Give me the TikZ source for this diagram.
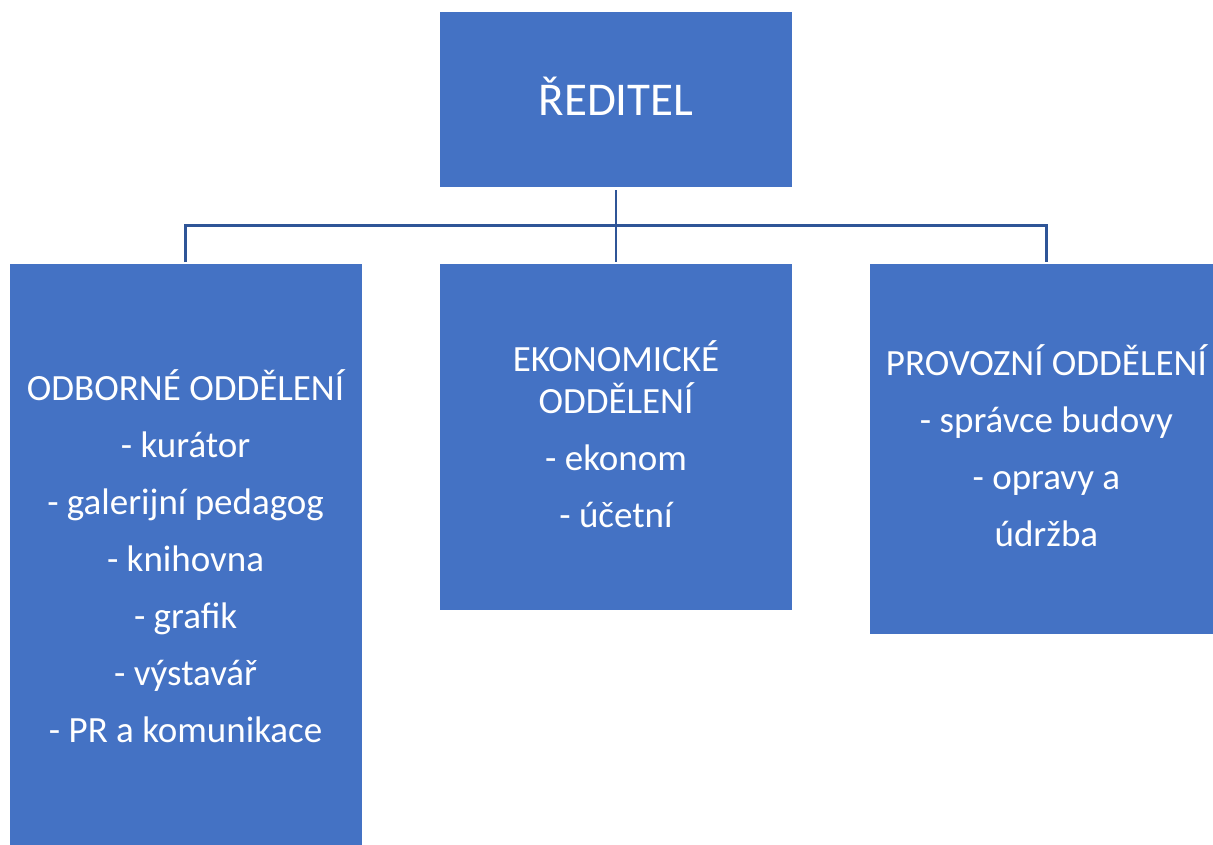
\documentclass[tikz,border=0pt]{standalone}
\usepackage{fontspec}
\setmainfont{Carlito}
\usetikzlibrary{positioning,calc}
\definecolor{unitblue}{RGB}{68,114,196}
\definecolor{linkblue}{RGB}{47,85,151}

\begin{document}
\begin{tikzpicture}[x=1pt, y=-1pt,
	unit/.style={fill=unitblue, text=white, align=center, inner sep=0pt, text depth=7pt,
		minimum width=352pt, font=\fontsize{37}{57}\selectfont},
	link/.style={draw=linkblue, line width=2.5pt}]
	\useasboundingbox (0,0) rectangle (1213,845);

	\node [unit, minimum height=175pt, font=\fontsize{47}{56}\selectfont] (ceo) at (616,99.5) {ŘEDITEL};
	\node [unit, minimum height=346pt, below=77pt of ceo] (econ) {EKONOMICKÉ\\[-15pt]ODDĚLENÍ\\- ekonom\\- účetní};
	\node [unit, minimum height=590pt, left=78pt of econ.north west, anchor=north east] (prof)
		{ODBORNÉ ODDĚLENÍ\\- kurátor\\- galerijní pedagog\\- knihovna\\- grafik\\- výstavář\\- PR a komunikace};
	\node [unit, minimum height=370pt, right=78pt of econ.north east, anchor=north west] (oper)
		{PROVOZNÍ ODDĚLENÍ\\- správce budovy\\- opravy a\\údržba};

	\coordinate (bus) at ($(ceo.south)!0.5!(econ.north)$);
	\draw [link, shorten <=3pt, shorten >=2pt] (ceo) -- (econ);
	\draw [link] ([yshift=2pt]prof.north) |- (bus) -| ([yshift=2pt]oper.north);
\end{tikzpicture}
\end{document}
